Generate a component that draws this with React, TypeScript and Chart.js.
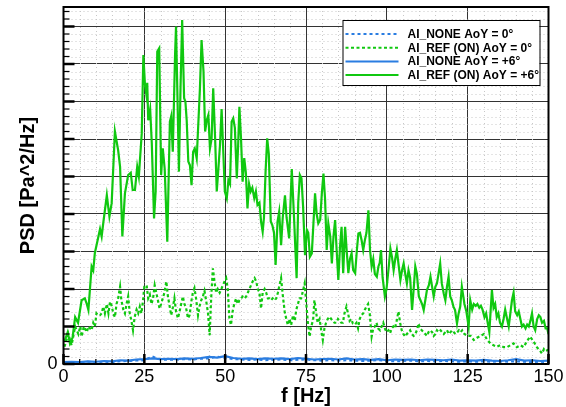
import React, { useEffect, useRef } from 'react';
import { Chart, registerables } from 'chart.js';

Chart.register(...registerables);

const FONT = '"Liberation Sans", Arial, Helvetica, sans-serif';

// ---- data (PSD in units of one major grid division) ----
const seriesLabels = [
  'AI_NONE AoY = 0°',
  'AI_REF (ON) AoY = 0°',
  'AI_NONE AoY = +6°',
  'AI_REF (ON) AoY = +6°',
];

const xTickLabels = ['0', '25', '50', '75', '100', '125', '150'];
const yTickLabels = ['0'];

// AI_REF (ON) AoY = +6° (solid green)
const refP6Hz = [
  0.3, 1.3, 2.0, 2.8, 3.6, 4.5, 5.6, 6.6, 7.2, 7.7, 8.7, 9.2, 9.7, 10.8, 11.3, 11.8, 12.3, 13.4, 14.2, 14.9,
  15.9, 16.9, 17.5, 18.2, 19.0, 20.0, 20.8, 21.4, 22.1, 22.8, 23.3, 24.2, 24.7, 25.2, 25.6, 25.9, 26.2, 26.8, 27.3, 28.0,
  28.5, 29.0, 29.6, 30.2, 30.7, 31.3, 32.1, 32.9, 33.3, 33.8, 34.5, 34.8, 35.3, 35.7, 36.2, 36.7, 37.3, 37.7, 38.1, 38.6,
  39.1, 39.6, 40.1, 40.6, 41.2, 42.2, 42.7, 43.3, 43.8, 44.3, 44.8, 45.3, 45.8, 46.3, 46.9, 47.4, 47.9, 48.4, 48.9, 49.4,
  49.9, 50.5, 51.0, 51.5, 52.0, 52.5, 53.0, 53.6, 54.0, 54.4, 54.9, 55.4, 55.9, 56.4, 56.9, 57.4, 57.9, 58.4, 59.0, 59.5,
  60.0, 60.6, 61.1, 61.6, 62.0, 62.5, 63.0, 63.5, 64.1, 64.6, 65.1, 65.6, 66.2, 66.7, 67.3, 67.8, 68.5, 69.0, 69.8, 70.6,
  71.3, 72.1, 72.6, 73.1, 73.6, 74.1, 74.7, 75.3, 75.7, 76.2, 76.8, 77.3, 77.8, 78.3, 78.8, 79.4, 79.9, 80.4, 80.9, 81.4,
  81.9, 82.5, 83.0, 83.5, 84.0, 84.5, 85.0, 85.5, 86.0, 86.5, 87.1, 87.6, 88.1, 88.6, 89.1, 89.6, 90.2, 90.7, 91.2, 91.7,
  92.2, 92.7, 93.2, 93.7, 94.3, 94.8, 95.3, 95.8, 96.3, 96.9, 97.4, 97.8, 98.2, 98.7, 99.4, 99.9, 100.6, 101.1, 101.6, 102.1,
  102.6, 103.1, 103.7, 104.2, 104.7, 105.2, 105.7, 106.2, 106.7, 107.2, 107.8, 108.3, 108.8, 109.3, 109.9, 110.4, 110.9, 111.4, 111.9, 112.4,
  113.0, 113.5, 114.0, 114.5, 115.0, 115.5, 116.5, 117.0, 117.6, 118.1, 118.6, 119.1, 119.6, 120.1, 120.6, 121.1, 121.7, 122.2, 122.7, 123.2,
  124.0, 124.6, 125.3, 125.8, 126.4, 126.9, 127.5, 128.0, 128.6, 129.1, 129.6, 130.2, 130.7, 131.2, 131.7, 132.5, 133.0, 133.5, 134.0, 134.5,
  135.0, 135.6, 136.1, 136.6, 137.2, 137.7, 138.2, 138.7, 139.2, 139.7, 140.3, 140.8, 141.3, 141.8, 142.3, 142.9, 143.4, 143.9, 144.4, 144.9,
  145.4, 145.9, 146.5, 147.0, 147.5, 148.0, 148.6, 149.1, 149.6, 150.0,
];
const refP6Psd = [
  0.6, 0.85, 0.55, 0.7, 1.25, 1.1, 1.7, 1.75, 1.6, 1.44, 2.6, 2.5, 2.96, 3.4, 3.6, 3.4, 3.76, 4.5, 3.93, 4.29,
  6.2, 5.7, 5.26, 3.4, 4.55, 5.04, 5.1, 4.64, 4.64, 5.26, 5.0, 6.15, 8.24, 7.44, 7.2, 7.5, 6.5, 6.8, 5.9, 3.88,
  4.6, 8.33, 8.42, 5.04, 5.75, 5.2, 3.26, 6.46, 6.6, 5.66, 8.24, 9.0, 6.9, 5.13, 7.4, 9.17, 7.09, 7.0, 6.5, 5.4,
  5.3, 4.77, 5.66, 5.75, 5.48, 7.36, 8.64, 7.8, 6.2, 6.5, 6.64, 5.75, 6.0, 7.35, 6.0, 4.6, 5.2, 5.84, 6.8, 5.7,
  4.6, 4.42, 4.9, 4.8, 6.46, 6.55, 6.3, 4.95, 5.8, 6.86, 6.02, 4.86, 5.49, 5.1, 4.15, 4.8, 4.6, 4.7, 4.42, 4.6,
  4.24, 4.3, 3.8, 3.53, 3.9, 5.13, 6.02, 5.6, 3.8, 3.7, 3.5, 2.64, 3.8, 4.06, 3.17, 3.9, 4.5, 3.9, 3.35, 5.2,
  3.9, 2.29, 4.3, 5.04, 4.95, 4.2, 2.9, 3.57, 3.5, 2.86, 2.95, 3.75, 4.55, 4.0, 3.75, 3.85, 4.55, 5.08, 4.4, 3.04,
  3.75, 3.4, 2.68, 3.4, 3.84, 3.0, 2.24, 3.1, 3.66, 2.42, 3.66, 3.0, 2.42, 2.8, 2.95, 2.5, 2.42, 3.0, 3.48, 3.5,
  3.3, 3.04, 3.3, 3.5, 4.1, 3.04, 2.6, 2.8, 2.4, 2.33, 2.6, 2.7, 3.04, 2.3, 1.8, 2.0, 2.6, 3.08, 2.85, 2.5,
  2.8, 3.04, 2.6, 2.24, 2.5, 2.68, 2.4, 2.15, 2.5, 2.3, 1.44, 2.0, 2.6, 2.4, 1.8, 1.7, 1.6, 1.44, 1.7, 1.97,
  2.1, 2.33, 2.06, 1.8, 2.06, 2.15, 2.68, 2.15, 1.88, 1.7, 2.06, 2.33, 1.8, 1.7, 1.53, 1.44, 1.08, 1.35, 1.53, 2.06,
  1.6, 1.4, 1.0, 1.7, 1.45, 1.6, 1.55, 1.6, 1.5, 1.55, 1.45, 1.25, 1.35, 1.1, 0.85, 1.97, 1.5, 1.6, 1.25, 1.35,
  1.1, 1.0, 1.2, 1.45, 1.2, 1.0, 1.35, 1.7, 1.9, 1.4, 1.3, 1.4, 1.2, 1.0, 1.05, 0.95, 1.05, 1.0, 1.15, 1.35,
  1.0, 0.9, 1.2, 1.3, 1.25, 1.1, 1.15, 0.95, 0.95, 0.8,
];

// AI_REF (ON) AoY = 0° (dotted green)
const ref0Hz = [
  0.3, 1.5, 2.5, 3.6, 4.6, 5.2, 5.6, 6.3, 7.2, 7.7, 8.7, 9.2, 9.7, 10.2, 10.8, 11.3, 11.8, 12.3, 12.8, 13.4,
  13.9, 14.4, 14.9, 15.4, 15.9, 16.4, 16.9, 17.5, 17.9, 18.5, 19.0, 19.5, 20.0, 20.5, 21.0, 21.5, 22.0, 22.6, 23.1, 23.6,
  24.1, 24.6, 25.0, 25.7, 26.2, 26.7, 27.2, 27.7, 28.2, 28.7, 29.2, 29.7, 30.2, 30.7, 31.2, 31.8, 32.3, 32.8, 33.3, 33.8,
  34.3, 34.8, 35.4, 35.9, 36.4, 36.9, 37.4, 37.9, 38.5, 39.0, 39.5, 40.0, 40.5, 41.0, 41.6, 42.1, 42.6, 43.1, 43.6, 44.1,
  44.7, 45.2, 45.7, 46.2, 46.7, 47.2, 47.7, 48.3, 48.8, 49.3, 49.8, 50.3, 50.8, 51.3, 51.8, 52.3, 52.8, 53.4, 53.9, 54.4,
  54.9, 55.4, 56.0, 56.5, 57.0, 57.5, 58.0, 58.5, 59.1, 59.6, 60.1, 60.6, 61.1, 61.6, 62.2, 62.7, 63.2, 63.7, 64.2, 64.7,
  65.3, 65.8, 66.3, 66.8, 67.3, 67.8, 68.4, 68.9, 69.4, 69.9, 70.4, 71.0, 71.5, 72.0, 72.5, 73.0, 73.5, 74.0, 74.6, 75.1,
  75.6, 76.1, 76.6, 77.2, 77.6, 78.1, 78.6, 79.2, 79.7, 80.2, 80.7, 81.2, 81.7, 82.3, 82.8, 83.3, 83.8, 84.4, 84.9, 85.4,
  85.9, 86.4, 86.9, 87.5, 88.0, 88.5, 89.0, 89.5, 90.1, 90.6, 91.1, 91.6, 92.1, 92.7, 93.2, 93.7, 94.2, 94.7, 95.3, 95.8,
  96.3, 96.8, 97.3, 97.9, 98.4, 98.9, 99.4, 99.9, 100.5, 101.0, 101.5, 102.0, 102.5, 103.1, 103.6, 104.1, 104.6, 105.1, 105.7, 106.2,
  106.7, 107.2, 107.7, 108.3, 108.8, 109.3, 109.8, 110.3, 110.8, 111.4, 111.9, 112.4, 112.9, 113.4, 114.0, 114.5, 115.0, 115.5, 116.0, 116.6,
  117.1, 117.6, 118.1, 118.6, 119.2, 119.7, 120.2, 120.7, 121.2, 121.8, 122.3, 122.8, 123.3, 124.0, 125.0, 125.9, 126.9, 127.9, 129.0, 130.0,
  131.0, 132.0, 133.0, 134.1, 135.1, 136.1, 137.2, 138.2, 139.2, 140.2, 141.3, 142.3, 143.3, 144.3, 145.4, 146.4, 147.4, 148.0, 148.6, 149.2,
  150.0,
];
const ref0Psd = [
  0.46, 0.8, 0.5, 1.0, 0.8, 1.0, 0.73, 1.0, 0.85, 1.0, 0.9, 1.1, 1.0, 1.35, 1.3, 1.3, 1.35, 1.53, 1.35, 1.6,
  1.35, 1.66, 1.55, 1.35, 1.25, 1.6, 1.75, 2.06, 1.7, 1.45, 1.35, 1.6, 1.8, 1.35, 1.15, 0.9, 1.25, 1.45, 1.35, 1.53,
  1.35, 1.7, 2.06, 2.1, 1.75, 1.85, 1.6, 1.75, 2.1, 1.9, 1.7, 1.48, 1.6, 1.75, 1.9, 2.2, 1.8, 1.55, 1.3, 1.5,
  1.75, 1.4, 1.22, 1.4, 1.6, 1.8, 1.6, 1.5, 1.22, 1.3, 1.65, 1.9, 2.02, 1.75, 1.3, 1.55, 1.7, 1.8, 1.95, 1.7,
  1.35, 0.77, 1.8, 2.55, 2.2, 1.9, 2.0, 1.9, 2.0, 2.1, 2.2, 2.29, 2.0, 1.22, 1.04, 1.4, 1.6, 1.75, 1.6, 1.7,
  1.75, 1.8, 1.75, 1.8, 1.9, 2.0, 2.1, 2.2, 2.29, 2.2, 2.0, 1.9, 1.48, 1.9, 2.0, 1.9, 1.75, 1.75, 1.7, 1.75,
  1.7, 1.75, 1.9, 2.1, 2.29, 1.85, 1.4, 1.2, 1.04, 1.2, 1.04, 1.3, 1.15, 1.45, 1.6, 1.75, 1.75, 1.93, 2.15, 1.6,
  1.08, 0.73, 1.0, 1.17, 1.7, 1.4, 1.1, 1.2, 0.9, 0.64, 0.95, 1.1, 1.2, 1.26, 1.2, 1.15, 1.1, 1.1, 1.2, 1.15,
  1.1, 1.1, 1.35, 1.53, 1.35, 1.15, 1.2, 1.08, 1.05, 1.1, 0.95, 1.2, 1.3, 1.35, 1.45, 1.53, 1.6, 1.35, 0.73, 0.95,
  1.0, 1.1, 0.95, 0.9, 1.0, 1.1, 0.95, 0.85, 0.9, 0.82, 0.95, 1.0, 0.95, 1.17, 1.4, 1.1, 0.9, 0.8, 0.73, 0.8,
  0.85, 0.9, 0.8, 0.75, 0.8, 0.9, 1.08, 0.95, 0.9, 0.85, 0.8, 0.75, 0.85, 0.9, 0.85, 0.75, 0.8, 0.9, 0.85, 0.9,
  0.85, 0.8, 0.85, 0.9, 0.8, 0.85, 0.9, 0.85, 0.8, 0.85, 0.9, 0.85, 0.9, 0.8, 0.75, 0.75, 0.64, 0.7, 0.75, 0.8,
  0.65, 0.55, 0.5, 0.46, 0.5, 0.45, 0.45, 0.5, 0.55, 0.45, 0.5, 0.45, 0.6, 0.73, 0.6, 0.45, 0.35, 0.28, 0.4, 0.35,
  0.38,
];

// AI_NONE series (blue), sampled every 2.5 Hz
const noneHz = [
  0, 2.5, 5, 7.5, 10, 12.5, 15, 17.5, 20, 22.5, 25, 27.5, 30, 32.5, 35, 37.5, 40, 42.5, 45, 47.5,
  50, 52.5, 55, 57.5, 60, 62.5, 65, 67.5, 70, 72.5, 75, 77.5, 80, 82.5, 85, 87.5, 90, 92.5, 95, 97.5,
  100, 102.5, 105, 107.5, 110, 112.5, 115, 117.5, 120, 122.5, 125, 127.5, 130, 132.5, 135, 137.5, 140, 142.5, 145, 147.5,
  150,
];
const noneP6Psd = [
  0.05, 0.06, 0.05, 0.07, 0.06, 0.08, 0.07, 0.1, 0.09, 0.12, 0.13, 0.15, 0.13, 0.14, 0.13, 0.15, 0.14, 0.16, 0.19, 0.17,
  0.21, 0.16, 0.14, 0.15, 0.13, 0.15, 0.14, 0.15, 0.13, 0.16, 0.14, 0.12, 0.13, 0.14, 0.12, 0.15, 0.12, 0.13, 0.11, 0.13,
  0.1, 0.12, 0.11, 0.12, 0.1, 0.12, 0.11, 0.1, 0.12, 0.09, 0.1, 0.09, 0.11, 0.09, 0.08, 0.1, 0.13, 0.09, 0.1, 0.08,
  0.09,
];
const none0Psd = [
  0.04, 0.05, 0.04, 0.06, 0.05, 0.06, 0.05, 0.07, 0.08, 0.09, 0.1, 0.2, 0.12, 0.11, 0.12, 0.13, 0.12, 0.14, 0.15, 0.2,
  0.16, 0.13, 0.12, 0.11, 0.12, 0.1, 0.11, 0.12, 0.1, 0.11, 0.12, 0.1, 0.09, 0.1, 0.09, 0.1, 0.09, 0.08, 0.09, 0.1,
  0.08, 0.07, 0.08, 0.09, 0.07, 0.08, 0.07, 0.08, 0.07, 0.06, 0.07, 0.06, 0.07, 0.06, 0.07, 0.06, 0.07, 0.06, 0.05, 0.06,
  0.05,
];

const GREEN = '#10c810';
const BLUE = '#2a7de1';

const pts = (xs: number[], ys: number[]) => xs.map((x, i) => ({ x, y: ys[i] }));

const isMajorX = (v: number) => Math.abs(v / 25 - Math.round(v / 25)) < 1e-6;
const isMajorY = (v: number) => Math.abs(v - Math.round(v)) < 1e-6;

// dotted minor grid lines, drawn from the scales' own ticks
const minorGridPlugin = {
  id: 'minorGrid',
  beforeDatasetsDraw(chart: any) {
    const { ctx, chartArea: ca, scales } = chart;
    const xs = scales.x;
    const ys = scales.y;
    ctx.save();
    ctx.strokeStyle = '#c8c8c8';
    ctx.lineWidth = 1;
    ctx.setLineDash([1, 3]);
    xs.ticks.forEach((t: any) => {
      if (isMajorX(t.value)) return;
      const px = Math.round(xs.getPixelForValue(t.value)) + 0.5;
      ctx.beginPath();
      ctx.moveTo(px, ca.top);
      ctx.lineTo(px, ca.bottom);
      ctx.stroke();
    });
    ys.ticks.forEach((t: any) => {
      if (isMajorY(t.value)) return;
      const py = Math.round(ys.getPixelForValue(t.value)) + 0.5;
      ctx.beginPath();
      ctx.moveTo(ca.left, py);
      ctx.lineTo(ca.right, py);
      ctx.stroke();
    });
    ctx.restore();
  },
};

const framePlugin = {
  id: 'tecplotFrame',
  afterDatasetsDraw(chart: any) {
    const { ctx, chartArea: ca, scales } = chart;
    const xs = scales.x;
    const ys = scales.y;
    ctx.save();
    ctx.strokeStyle = '#000';
    ctx.lineCap = 'butt';
    xs.ticks.forEach((t: any) => {
      const px = xs.getPixelForValue(t.value);
      const major = isMajorX(t.value);
      ctx.lineWidth = major ? 2.5 : 1.2;
      ctx.beginPath();
      ctx.moveTo(px, ca.bottom);
      ctx.lineTo(px, ca.bottom - (major ? 10 : 5));
      ctx.stroke();
    });
    ys.ticks.forEach((t: any) => {
      const py = ys.getPixelForValue(t.value);
      const major = isMajorY(t.value);
      ctx.lineWidth = major ? 2.5 : 1.2;
      ctx.beginPath();
      ctx.moveTo(ca.left, py);
      ctx.lineTo(ca.left + (major ? 11 : 6), py);
      ctx.stroke();
    });
    ctx.lineWidth = 2;
    ctx.strokeRect(ca.left, ca.top, ca.right - ca.left, ca.bottom - ca.top);

    // legend box inside the plot
    const bx = ca.right - 206;
    const by = ca.top + 13;
    const bw = 197;
    const bh = 65;
    ctx.fillStyle = '#fff';
    ctx.fillRect(bx, by, bw, bh);
    ctx.lineWidth = 1;
    ctx.strokeStyle = '#000';
    ctx.strokeRect(bx + 0.5, by + 0.5, bw, bh);
    ctx.font = `bold 12px ${FONT}`;
    ctx.textBaseline = 'middle';
    ctx.textAlign = 'left';
    chart.data.datasets.forEach((ds: any, i: number) => {
      const yy = by + 14 + i * 13.7;
      ctx.strokeStyle = ds.borderColor;
      ctx.lineWidth = 2;
      ctx.setLineDash(ds.borderDash || []);
      ctx.beginPath();
      ctx.moveTo(bx + 3, yy);
      ctx.lineTo(bx + 56, yy);
      ctx.stroke();
      ctx.setLineDash([]);
      ctx.fillStyle = '#000';
      ctx.fillText(ds.label, bx + 65, yy + 0.5);
    });
    ctx.restore();
  },
};

export default function App() {
  const ref = useRef<HTMLCanvasElement>(null);
  useEffect(() => {
    if (!ref.current) return;
    const chart = new Chart(ref.current, {
      type: 'line',
      data: {
        datasets: [
          { label: seriesLabels[0], data: pts(noneHz, none0Psd), borderColor: BLUE, borderWidth: 2, borderDash: [3, 3], pointRadius: 0, tension: 0, fill: false, order: 3 },
          { label: seriesLabels[1], data: pts(ref0Hz, ref0Psd), borderColor: GREEN, borderWidth: 2.2, borderDash: [3, 2.5], pointRadius: 0, tension: 0, fill: false, order: 2 },
          { label: seriesLabels[2], data: pts(noneHz, noneP6Psd), borderColor: BLUE, borderWidth: 2.2, pointRadius: 0, tension: 0, fill: false, order: 1 },
          { label: seriesLabels[3], data: pts(refP6Hz, refP6Psd), borderColor: GREEN, borderWidth: 2.2, pointRadius: 0, tension: 0, fill: false, order: 0 },
        ] as any,
      },
      options: {
        animation: false,
        responsive: false,
        devicePixelRatio: 1,
        parsing: false as any,
        layout: { padding: { top: 7, right: 17.5, left: 0, bottom: 0 } },
        plugins: { legend: { display: false }, tooltip: { enabled: false } },
        scales: {
          x: {
            type: 'linear',
            min: 0,
            max: 150,
            afterFit: (s: any) => {
              s.height = 43;
              s.paddingLeft = 0;
              s.paddingRight = 0;
            },
            border: { display: false },
            grid: {
              drawTicks: false,
              lineWidth: 1,
              color: (c: any) => (c.tick && isMajorX(c.tick.value) ? '#333333' : 'rgba(0,0,0,0)'),
            },
            ticks: {
              stepSize: 5,
              autoSkip: false,
              maxRotation: 0,
              padding: 2,
              color: '#000',
              font: { family: FONT, size: 18 },
              callback: (v: any) => {
                const s = String(v);
                return xTickLabels.includes(s) ? s : '';
              },
            },
            title: {
              display: true,
              text: 'f [Hz]',
              color: '#000',
              font: { family: FONT, size: 20, weight: 'bold', lineHeight: 1 },
              padding: { top: 0, bottom: 1 },
            },
          },
          y: {
            type: 'linear',
            min: 0,
            max: 9.52,
            afterFit: (s: any) => {
              s.width = 63.5;
              s.paddingTop = 0;
              s.paddingBottom = 0;
            },
            border: { display: false },
            grid: {
              drawTicks: false,
              lineWidth: 1,
              color: (c: any) => (c.tick && isMajorY(c.tick.value) ? '#333333' : 'rgba(0,0,0,0)'),
            },
            ticks: {
              stepSize: 0.2,
              includeBounds: false,
              autoSkip: false,
              padding: 6,
              color: '#000',
              font: { family: FONT, size: 18 },
              callback: (v: any) => {
                const s = String(v);
                return yTickLabels.includes(s) ? s : '';
              },
            },
            title: {
              display: true,
              text: 'PSD [Pa^2/Hz]',
              color: '#000',
              font: { family: FONT, size: 20, weight: 'bold', lineHeight: 1 },
              padding: { top: 18, bottom: 0 },
            },
          },
        },
      } as any,
      plugins: [minorGridPlugin, framePlugin],
    });
    return () => chart.destroy();
  }, []);
  return (
    <div style={{ position: 'fixed', left: 0, top: 0, width: 566, height: 407, background: '#fff' }}>
      <canvas ref={ref} width={566} height={407} style={{ display: 'block', width: 566, height: 407 }} />
    </div>
  );
}
